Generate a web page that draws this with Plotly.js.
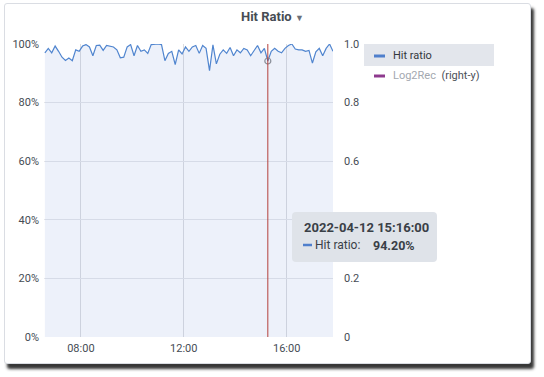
<!DOCTYPE html>
<html>
<head>
<meta charset="utf-8">
<script src="https://cdn.plot.ly/plotly-3.0.1.min.js"></script>
<style>
  html, body { margin: 0; padding: 0; background: #ffffff; width: 544px; height: 377px; overflow: hidden; }
  #frame { position: absolute; left: 4px; top: 3px; width: 525px; height: 359px;
           border: 1px solid #dadde3; border-radius: 3px; background: #ffffff;
           box-shadow: 3px 5px 3px rgba(20,20,20,0.85); }
  #chart { position: absolute; left: 0; top: 0; width: 544px; height: 377px; }
</style>
</head>
<body>
<div id="frame"></div>
<div id="chart"></div>
<script>
const day = '2022-04-12';
const times = ['06:36','06:44','06:52','07:00','07:08','07:16','07:24','07:32','07:40','07:48',
  '07:56','08:04','08:12','08:20','08:28','08:36','08:44','08:52','09:00','09:08',
  '09:16','09:24','09:32','09:40','09:48','09:56','10:04','10:12','10:20','10:28',
  '10:36','10:44','10:52','11:00','11:08','11:16','11:24','11:32','11:40','11:48',
  '11:56','12:04','12:12','12:20','12:28','12:36','12:44','12:52','13:00','13:08',
  '13:16','13:24','13:32','13:40','13:48','13:56','14:04','14:12','14:20','14:28',
  '14:36','14:44','14:52','15:00','15:08','15:16','15:24','15:32','15:40','15:48',
  '15:56','16:04','16:12','16:20','16:28','16:36','16:44','16:52','17:00','17:08',
  '17:16','17:24','17:32','17:40','17:48'];
const hitRatio = [97, 98.5, 97, 99.3, 97.5, 95.5, 94.4, 95.2, 94.3, 98,
  97.5, 99.3, 99.8, 99, 96, 99.5, 99.6, 97.8, 99.5, 99.2,
  99, 98, 95.3, 95.5, 99, 99.8, 96, 99.5, 97.5, 98,
  96.8, 99.8, 100, 100, 99.8, 94.3, 96.8, 97.5, 93, 98,
  96.6, 99, 97.5, 99, 99.5, 96.8, 99.5, 98.5, 90.9, 99.7,
  93.2, 96.5, 98, 96.8, 98.8, 96, 98, 97, 98.5, 98,
  96, 98, 99.5, 97, 98.5, 94.2, 97.5, 98.5, 97.5, 97,
  98.5, 99.5, 100, 98.3, 98, 98, 97.5, 97.8, 93.5, 97.3,
  98.5, 96, 98.5, 100, 97.5];
const log2Rec = [];
const leftTicks = [0, 20, 40, 60, 80, 100];
const leftTickText = ['0%', '20%', '40%', '60%', '80%', '100%'];
// 0.4 is hidden behind the tooltip in the reference
const rightTicks = [0, 0.2, 0.6, 0.8, 1.0];
const rightTickText = ['0', '0.2', '0.6', '0.8', '1.0'];
const hoverIdx = 65;

const x = times.map(t => day + ' ' + t);

// pixel -> paper helpers (plot area: x 44..333, y 44..337)
const L = 44, R = 333, T = 44, B = 337;
const px = v => (v - L) / (R - L);
const py = v => (B - v) / (B - T);

const txt = '#464c54';
const font = 'Roboto, "Open Sans", sans-serif';

const traces = [
  {
    x: x, y: hitRatio, type: 'scatter', mode: 'lines', name: 'Hit ratio',
    line: { color: '#5085cf', width: 1.2 },
    fill: 'tozeroy', fillcolor: 'rgba(80,120,205,0.10)',
    hoverinfo: 'skip', showlegend: false
  },
  {
    x: [x[hoverIdx]], y: [hitRatio[hoverIdx]], type: 'scatter', mode: 'markers',
    marker: { size: 6, color: 'rgba(0,0,0,0)', line: { color: '#8a8f99', width: 1.2 } },
    hoverinfo: 'skip', showlegend: false
  },
  {
    x: log2Rec.map((_, i) => x[i]), y: log2Rec, type: 'scatter', mode: 'lines', name: 'Log2Rec',
    yaxis: 'y2', line: { color: '#8f3b8f' }, hoverinfo: 'skip', showlegend: false
  }
];

function roundRect(x0, y0, x1, y1, r) {
  const P = (a, b) => px(a) + ',' + py(b);
  return 'M' + P(x0 + r, y0) + ' L' + P(x1 - r, y0) + ' Q' + P(x1, y0) + ' ' + P(x1, y0 + r) +
    ' L' + P(x1, y1 - r) + ' Q' + P(x1, y1) + ' ' + P(x1 - r, y1) +
    ' L' + P(x0 + r, y1) + ' Q' + P(x0, y1) + ' ' + P(x0, y1 - r) +
    ' L' + P(x0, y0 + r) + ' Q' + P(x0, y0) + ' ' + P(x0 + r, y0) + ' Z';
}

const layout = {
  width: 544, height: 377,
  margin: { l: L, r: 544 - R, t: T, b: 377 - B },
  paper_bgcolor: 'rgba(0,0,0,0)',
  plot_bgcolor: 'rgba(0,0,0,0)',
  font: { family: font, size: 11, color: txt },
  showlegend: false,
  xaxis: {
    type: 'date', range: [day + ' 06:34', day + ' 17:48'],
    dtick: 4 * 3600000, tickformat: '%H:%M',
    showgrid: true, gridcolor: '#dcdde0', gridwidth: 1,
    zeroline: false, showline: false, ticks: '', ticklabelstandoff: 3,
    tickfont: { size: 11, color: txt }, fixedrange: true
  },
  yaxis: {
    range: [0, 100], tickvals: leftTicks, ticktext: leftTickText,
    showgrid: true, gridcolor: '#e6e7ea', zeroline: false, showline: false,
    ticks: '', ticklabelstandoff: 4, tickfont: { size: 11, color: txt }, fixedrange: true
  },
  yaxis2: {
    overlaying: 'y', side: 'right', range: [0, 1],
    tickvals: rightTicks, ticktext: rightTickText,
    showgrid: false, zeroline: false, showline: false, ticks: '', ticklabelstandoff: 10,
    tickfont: { size: 11, color: txt }, fixedrange: true
  },
  shapes: [
    { type: 'line', xref: 'x', yref: 'paper', x0: x[hoverIdx], x1: x[hoverIdx], y0: 0, y1: 1,
      line: { color: '#b5403c', width: 1 } },
    { type: 'rect', xref: 'paper', yref: 'paper', x0: px(364), x1: px(494), y0: py(66), y1: py(44),
      fillcolor: '#e3e6ec', line: { width: 0 }, layer: 'below' },
    { type: 'line', xref: 'paper', yref: 'paper', x0: px(374), x1: px(385), y0: py(56), y1: py(56),
      line: { color: '#4f7fcc', width: 3 } },
    { type: 'line', xref: 'paper', yref: 'paper', x0: px(374), x1: px(385), y0: py(76), y1: py(76),
      line: { color: '#8e3a8e', width: 3 } },
    { type: 'path', xref: 'paper', yref: 'paper', path: roundRect(292, 212, 437, 262, 4),
      fillcolor: '#dfe3e9', line: { width: 0 } },
    { type: 'line', xref: 'paper', yref: 'paper', x0: px(303), x1: px(312), y0: py(245), y1: py(245),
      line: { color: '#4f7fcc', width: 2.5 } }
  ],
  annotations: [
    { xref: 'paper', yref: 'paper', x: px(272), y: py(17), xanchor: 'center', yanchor: 'middle',
      text: '<b>Hit Ratio</b> <span style="font-size:9px;color:#6b7079">▼</span>', showarrow: false,
      font: { family: font, size: 13, color: txt } },
    { xref: 'paper', yref: 'paper', x: px(391), y: py(55), xanchor: 'left', yanchor: 'middle',
      text: 'Hit ratio', showarrow: false, font: { family: font, size: 11, color: '#33373d' } },
    { xref: 'paper', yref: 'paper', x: px(391), y: py(75), xanchor: 'left', yanchor: 'middle',
      text: '<span style="color:#a3a8b0">Log2Rec</span>  (right-y)', showarrow: false,
      font: { family: font, size: 11, color: '#4b5058' } },
    { xref: 'paper', yref: 'paper', x: px(302), y: py(227), xanchor: 'left', yanchor: 'middle',
      text: '<b>' + day + ' ' + times[hoverIdx] + ':00</b>', showarrow: false,
      font: { family: font, size: 13, color: '#3a3f47' } },
    { xref: 'paper', yref: 'paper', x: px(313), y: py(245), xanchor: 'left', yanchor: 'middle',
      text: 'Hit ratio:', showarrow: false, font: { family: font, size: 12, color: '#3a3f47' } },
    { xref: 'paper', yref: 'paper', x: px(371), y: py(245), xanchor: 'left', yanchor: 'middle',
      text: '<b>' + hitRatio[hoverIdx].toFixed(2) + '%</b>', showarrow: false,
      font: { family: font, size: 12.5, color: '#3a3f47' } }
  ]
};

Plotly.newPlot('chart', traces, layout, { displayModeBar: false, staticPlot: true });
</script>
</body>
</html>
